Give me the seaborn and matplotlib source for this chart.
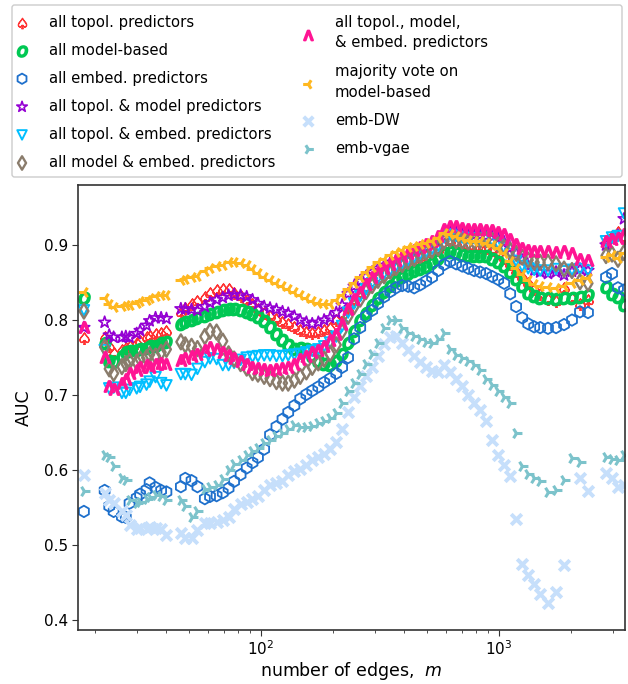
import numpy as np
import pandas as pd
import matplotlib
matplotlib.use("Agg")
import matplotlib.pyplot as plt
import seaborn as sns
from matplotlib.patches import FancyBboxPatch

nan = float("nan")

# number of edges (x values shared by all series)
m_edges = [18, 22, 23, 24, 26, 27, 28, 30, 31, 33, 34, 36, 38, 40,
           46, 48, 51, 54, 58, 61, 65, 69, 73, 77, 82, 87, 92, 97, 103, 109,
           116, 123, 130, 138, 146, 155, 164, 174, 184, 195, 207, 219, 232, 246,
           261, 276, 293, 310, 329, 349, 369, 392, 415, 440, 466, 494, 523, 555,
           588, 623, 660, 700, 742, 786, 833, 883, 936, 992, 1051, 1114, 1180,
           1251, 1326, 1405, 1489,
           1606, 1736, 1876, 2026, 2189, 2365,
           2816, 2985, 3162, 3352]

auc_topol = [0.776, 0.777, 0.765, 0.756, 0.760, 0.763, 0.766, 0.769, 0.772, 0.777, 0.779, 0.781, 0.783, 0.785,
             0.811, 0.816, 0.821, 0.826, 0.831, 0.836, 0.840, 0.842, 0.841, 0.836, 0.832, 0.827, 0.821, 0.815, 0.810,
             0.805, 0.802, 0.798, 0.795, 0.791, 0.787, 0.784, 0.783, 0.784, 0.787, 0.790, 0.800, 0.808, 0.815, 0.825,
             0.835, 0.843, 0.850, 0.856, 0.861, 0.866, 0.870, 0.873, 0.877, 0.880, 0.883, 0.886, 0.889, 0.893, 0.902,
             0.905, 0.903, 0.902, 0.900, 0.899, 0.898, 0.896, 0.893, 0.890, 0.883, 0.875, 0.866, 0.858, 0.850, 0.842, 0.835,
             0.828, 0.826, 0.843, 0.829, 0.821, 0.827,
             0.905, 0.912, 0.918, 0.910]

auc_model = [0.829, 0.770, 0.745, 0.744, 0.752, 0.757, 0.759, 0.760, 0.761, 0.763, 0.765, 0.766, 0.769, 0.771,
             0.795, 0.798, 0.800, 0.803, 0.806, 0.808, 0.811, 0.813, 0.815, 0.815, 0.813, 0.811, 0.808, 0.804, 0.799,
             0.791, 0.782, 0.774, 0.767, 0.762, 0.763, 0.762, 0.752, 0.745, 0.742, 0.740, 0.745, 0.755, 0.770, 0.785,
             0.800, 0.810, 0.820, 0.830, 0.838, 0.845, 0.852, 0.857, 0.861, 0.865, 0.868, 0.871, 0.876, 0.882, 0.890,
             0.891, 0.889, 0.887, 0.886, 0.885, 0.886, 0.885, 0.882, 0.878, 0.872, 0.864, 0.855, 0.845, 0.836, 0.832, 0.830,
             0.829, 0.828, 0.830, 0.829, 0.831, 0.833,
             0.844, 0.835, 0.831, 0.820]

auc_embed = [0.545, 0.573, 0.552, 0.545, 0.538, 0.537, 0.556, 0.563, 0.568, 0.574, 0.583, 0.577, 0.573, 0.571,
             0.578, 0.589, 0.586, 0.578, 0.562, 0.565, 0.566, 0.570, 0.576, 0.585, 0.594, 0.603, 0.610, 0.617, 0.628,
             0.647, 0.658, 0.668, 0.677, 0.686, 0.695, 0.701, 0.706, 0.711, 0.717, 0.722, 0.729, 0.737, 0.750, 0.775,
             0.790, 0.805, 0.813, 0.822, 0.831, 0.838, 0.843, 0.846, 0.845, 0.843, 0.847, 0.852, 0.857, 0.866, 0.874,
             0.878, 0.875, 0.872, 0.869, 0.866, 0.864, 0.862, 0.858, 0.854, 0.849, 0.835, 0.818, 0.803, 0.795, 0.791, 0.790,
             0.789, 0.790, 0.794, 0.800, 0.811, 0.810,
             0.857, 0.862, 0.843, 0.840]

auc_topol_model = [0.790, 0.797, 0.780, 0.777, 0.777, 0.778, 0.777, 0.782, 0.786, 0.793, 0.799, 0.803, 0.803, 0.802,
                   0.815, 0.815, 0.814, 0.813, 0.818, 0.823, 0.827, 0.830, 0.833, 0.834, 0.833, 0.831, 0.827, 0.822, 0.818,
                   0.816, 0.814, 0.811, 0.809, 0.805, 0.800, 0.797, 0.795, 0.797, 0.800, 0.803, 0.810, 0.820, 0.835, 0.845,
                   0.852, 0.858, 0.864, 0.869, 0.873, 0.877, 0.880, 0.884, 0.887, 0.891, 0.894, 0.897, 0.901, 0.905, 0.915,
                   0.918, 0.917, 0.915, 0.914, 0.913, 0.913, 0.912, 0.911, 0.909, 0.904, 0.896, 0.889, 0.880, 0.872, 0.866, 0.864,
                   0.862, 0.864, 0.860, 0.865, 0.868, 0.866,
                   0.900, 0.908, 0.913, 0.935]

auc_topol_embed = [0.813, 0.760, 0.709, 0.710, 0.703, 0.703, 0.707, 0.709, 0.711, 0.714, 0.718, 0.724, 0.716, 0.713,
                   0.728, 0.728, 0.727, 0.735, 0.744, 0.749, 0.748, 0.740, 0.740, 0.743, 0.747, 0.750, 0.751, 0.752, 0.753,
                   0.753, 0.752, 0.752, 0.753, 0.754, 0.755, 0.757, 0.759, 0.761, 0.765, 0.770, 0.778, 0.792, 0.810, 0.822,
                   0.832, 0.841, 0.849, 0.856, 0.862, 0.867, 0.872, 0.876, 0.880, 0.884, 0.888, 0.891, 0.895, 0.899, 0.910,
                   0.914, 0.912, 0.910, 0.909, 0.909, 0.909, 0.908, 0.906, 0.902, 0.896, 0.888, 0.879, 0.872, 0.869, 0.867, 0.866,
                   0.866, 0.868, 0.865, 0.867, 0.868, 0.866,
                   0.905, 0.910, 0.912, 0.942]

auc_model_embed = [0.812, 0.764, 0.735, 0.729, 0.738, 0.742, 0.745, 0.744, 0.748, 0.750, 0.754, 0.752, 0.757, 0.761,
                   0.771, 0.767, 0.765, 0.762, 0.778, 0.785, 0.784, 0.772, 0.755, 0.748, 0.742, 0.736, 0.730, 0.728, 0.725,
                   0.722, 0.718, 0.716, 0.716, 0.720, 0.725, 0.731, 0.737, 0.743, 0.748, 0.755, 0.767, 0.785, 0.805, 0.818,
                   0.828, 0.838, 0.846, 0.853, 0.859, 0.865, 0.870, 0.874, 0.878, 0.882, 0.886, 0.890, 0.893, 0.896, 0.905,
                   0.908, 0.906, 0.905, 0.904, 0.905, 0.906, 0.907, 0.906, 0.901, 0.897, 0.893, 0.889, 0.884, 0.880, 0.877, 0.877,
                   0.877, 0.875, 0.868, 0.866, 0.851, 0.849,
                   0.886, 0.888, 0.881, 0.890]

auc_all = [0.791, 0.751, 0.712, 0.708, 0.716, 0.722, 0.730, 0.734, 0.737, 0.740, 0.738, 0.741, 0.743, 0.742,
           0.747, 0.750, 0.752, 0.755, 0.760, 0.764, 0.762, 0.758, 0.754, 0.750, 0.745, 0.742, 0.738, 0.736, 0.735,
           0.734, 0.735, 0.736, 0.737, 0.742, 0.748, 0.752, 0.757, 0.760, 0.765, 0.773, 0.781, 0.795, 0.815, 0.828,
           0.838, 0.848, 0.857, 0.864, 0.870, 0.875, 0.880, 0.885, 0.890, 0.894, 0.898, 0.902, 0.906, 0.912, 0.922,
           0.926, 0.925, 0.923, 0.922, 0.922, 0.921, 0.920, 0.920, 0.918, 0.915, 0.908, 0.901, 0.896, 0.893, 0.892, 0.892,
           0.892, 0.891, 0.892, 0.890, 0.881, 0.880,
           0.905, 0.908, 0.910, 0.915]

auc_majority = [0.838, 0.829, 0.822, 0.817, 0.819, 0.820, 0.820, 0.823, 0.825, 0.827, 0.829, 0.832, 0.834, 0.834,
                0.853, 0.855, 0.857, 0.859, 0.866, 0.870, 0.872, 0.874, 0.877, 0.877, 0.876, 0.873, 0.868, 0.863, 0.858,
                0.854, 0.850, 0.846, 0.842, 0.838, 0.834, 0.830, 0.826, 0.823, 0.821, 0.822, 0.827, 0.834, 0.842, 0.850,
                0.857, 0.864, 0.871, 0.877, 0.882, 0.887, 0.891, 0.894, 0.897, 0.899, 0.901, 0.903, 0.906, 0.910, 0.916,
                0.915, 0.912, 0.909, 0.907, 0.906, 0.905, 0.903, 0.900, 0.896, 0.889, 0.879, 0.869, 0.861, 0.854, 0.848, 0.845,
                0.844, 0.843, 0.845, 0.849, 0.853, 0.856,
                0.884, 0.887, 0.883, 0.890]

auc_emb_dw = [0.593, 0.569, 0.560, 0.556, 0.545, 0.540, 0.527, 0.522, 0.523, 0.522, 0.524, 0.523, 0.521, 0.513,
              0.516, 0.510, 0.509, 0.520, 0.529, 0.530, 0.531, 0.534, 0.538, 0.548, 0.555, 0.557, 0.561, 0.565, 0.574,
              0.580, 0.583, 0.586, 0.594, 0.599, 0.602, 0.607, 0.613, 0.618, 0.622, 0.628, 0.637, 0.655, 0.677, 0.697,
              0.712, 0.725, 0.738, 0.752, 0.768, 0.777, 0.779, 0.770, 0.760, 0.752, 0.744, 0.737, 0.732, 0.731, 0.740,
              0.731, 0.722, 0.712, 0.700, 0.690, 0.680, 0.665, 0.640, 0.620, 0.607, 0.592, 0.535, 0.475, 0.460, 0.448, 0.435,
              0.423, 0.437, 0.473, nan, 0.590, 0.572,
              0.596, 0.590, 0.577, 0.580]

auc_emb_vgae = [0.572, 0.620, 0.618, 0.605, 0.590, 0.587, 0.560, 0.556, 0.557, 0.562, 0.564, 0.567, 0.565, 0.560,
                0.560, 0.552, 0.538, 0.545, 0.575, 0.577, 0.580, 0.588, 0.600, 0.608, 0.614, 0.620, 0.626, 0.630, 0.636,
                0.640, 0.645, 0.650, 0.655, 0.660, 0.657, 0.657, 0.659, 0.663, 0.666, 0.670, 0.676, 0.690, 0.705, 0.716,
                0.728, 0.741, 0.755, 0.770, 0.790, 0.800, 0.800, 0.790, 0.783, 0.779, 0.775, 0.771, 0.770, 0.775, 0.783,
                0.762, 0.753, 0.750, 0.746, 0.740, 0.733, 0.722, 0.713, 0.705, 0.697, 0.690, 0.650, 0.605, 0.595, 0.590, 0.585,
                0.571, 0.573, 0.587, 0.616, 0.611, nan,
                0.617, 0.615, 0.613, 0.620]

series_labels = ["all topol. predictors", "all model-based", "all embed. predictors",
                 "all topol. & model predictors", "all topol. & embed. predictors",
                 "all model & embed. predictors", "all topol., model,\n& embed. predictors",
                 "majority vote on\nmodel-based", "emb-DW", "emb-vgae"]
series_values = [auc_topol, auc_model, auc_embed, auc_topol_model, auc_topol_embed,
                 auc_model_embed, auc_all, auc_majority, auc_emb_dw, auc_emb_vgae]

frames = []
for lab, vals in zip(series_labels, series_values):
    frames.append(pd.DataFrame({"m": m_edges, "auc": vals, "series": lab}))
df = pd.concat(frames, ignore_index=True)

# styles
S = 58
styles = [
    dict(marker="$\u2664$", color="#FF3333", edgecolor="#FF3333", linewidth=0.8, s=S + 15),
    dict(marker="$o$", color="#00C853", edgecolor="#00C853", linewidth=1.4, s=S + 15),
    dict(marker="h", color="#1E70CC", facecolors="none", edgecolor="#1E70CC", linewidth=1.3, s=S + 10),
    dict(marker="*", color="#9400D3", facecolors="none", edgecolor="#9400D3", linewidth=1.2, s=S + 20),
    dict(marker="v", color="#00BFFF", facecolors="none", edgecolor="#00BFFF", linewidth=1.4, s=S),
    dict(marker="d", color="#8A7C6C", facecolors="none", edgecolor="#8A7C6C", linewidth=1.7, s=S),
    dict(marker="$\\Lambda$", color="#FF1493", edgecolor="#FF1493", linewidth=1.6, s=S),
    dict(marker="3", color="#FFB820", linewidth=2.2, s=S + 15),
    dict(marker="x", color="#C6DFFB", linewidth=2.8, s=S),
    dict(marker="4", color="#7CC3CB", linewidth=2.2, s=S + 15),
]

sns.set_style("ticks")
plt.rcParams["font.family"] = ["DejaVu Sans"]
plt.rcParams["text.color"] = "black"
plt.rcParams["axes.labelcolor"] = "black"
plt.rcParams["xtick.color"] = "black"
plt.rcParams["ytick.color"] = "black"

fig = plt.figure(figsize=(6.28, 6.84), dpi=100)
ax = fig.add_axes([78 / 628, 54 / 684, 547 / 628, 445 / 684])
ax.set_xscale("log")

for lab, st in zip(series_labels, styles):
    sub = df[df["series"] == lab]
    sns.scatterplot(data=sub, x="m", y="auc", ax=ax, label=lab, legend=False, **st)

ax.set_xlim(17.0, 3384)
ax.set_ylim(0.387, 0.98)
ax.set_yticks([0.4, 0.5, 0.6, 0.7, 0.8, 0.9])
ax.set_yticklabels(["0.4", "0.5", "0.6", "0.7", "0.8", "0.9"])
ax.tick_params(axis="both", which="major", labelsize=11, length=4, color="#333333", pad=3)
ax.tick_params(axis="x", which="minor", length=2.5, color="#333333")
ax.set_xlabel("number of edges,  $m$", fontsize=12.5, labelpad=1)
ax.set_ylabel("AUC", fontsize=12.5, labelpad=8)
for sp in ax.spines.values():
    sp.set_color("#333333")
    sp.set_linewidth(1.2)

handles, labels = ax.get_legend_handles_labels()
common = dict(loc="upper left", frameon=False, borderpad=0, borderaxespad=0,
              handlelength=1.0, handletextpad=1.3, labelspacing=0.88,
              fontsize=10.7, markerscale=0.9)
leg1 = fig.legend(handles[:6], labels[:6], bbox_to_anchor=(14.6 / 628, 1 - 14.5 / 684), **common)
leg2 = fig.legend(handles[6:], labels[6:], bbox_to_anchor=(300.6 / 628, 1 - 14.5 / 684), **common)
for leg in (leg1, leg2):
    for t in leg.get_texts():
        t.set_linespacing(1.5)
fig.add_artist(FancyBboxPatch((12 / 628, 1 - 177 / 684), 610 / 628, 172 / 684,
                              boxstyle="round,pad=0,rounding_size=0.004",
                              transform=fig.transFigure, fill=False,
                              edgecolor="#cccccc", linewidth=1.0))

fig.savefig("out.png", dpi=100)
